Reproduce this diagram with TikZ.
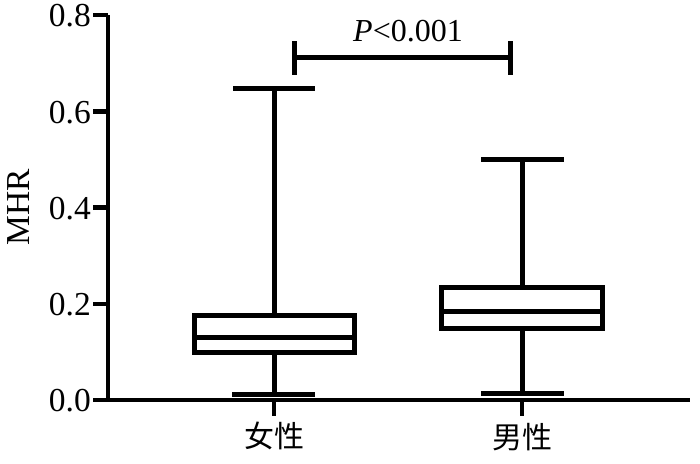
\documentclass[tikz,border=0pt]{standalone}
\usepackage{fontspec}
\setmainfont{Liberation Serif}
\newfontfamily\cjk{Noto Sans CJK SC}
\begin{document}
\begin{tikzpicture}[x=1pt,y=-1pt,
  axisline/.style={line width=4.5pt},
  boxline/.style={line width=5pt},
  ticklab/.style={anchor=east,inner sep=0pt,font=\fontsize{33.5}{36}\selectfont},
  catlab/.style={anchor=center,inner sep=0pt,font=\cjk\fontsize{30}{34}\selectfont}]
\useasboundingbox (0,0) rectangle (700,463);
% axes
\coordinate (ytop) at (108,15);
\coordinate (orig) at (108,400);
\coordinate (xend) at (690,400);
\draw[axisline] (ytop) -- (orig) -- (xend);
% y ticks
\foreach \v/\lab in {0/0.0,1/0.2,2/0.4,3/0.6,4/0.8}{
  \draw[axisline] (93,{400-96.25*\v}) -- (108,{400-96.25*\v});
  \node[ticklab] (t\v) at (91,{400-96.25*\v+1}) {\lab};
}
% x ticks
\draw[axisline] (274,400) -- (274,416);
\draw[axisline] (522,400) -- (522,416);
\node[catlab] (c1) at (274,436) {女性};
\node[catlab] (c2) at (522,437) {男性};
% y label
\node[rotate=90,inner sep=0pt,font=\fontsize{33.5}{36}\selectfont] (ylab) at (19,207) {MHR};
% box 1
\draw[boxline] (194,315.5) rectangle (354,352.5);
\draw[boxline] (194,337) -- (354,337);
\draw[boxline] (274,352.5) -- (274,394);
\draw[boxline] (274,315.5) -- (274,88);
\draw[boxline] (232,394) -- (315,394);
\draw[boxline] (233,88) -- (315,88);
% box 2
\draw[boxline] (441.5,287.5) rectangle (602.5,328.5);
\draw[boxline] (441.5,311.5) -- (602.5,311.5);
\draw[boxline] (522,328.5) -- (522,393);
\draw[boxline] (522,287.5) -- (522,159);
\draw[boxline] (481,393) -- (564,393);
\draw[boxline] (481,159) -- (564,159);
% significance bracket
\coordinate (bl) at (294,57);
\coordinate (br) at (510,57);
\draw[boxline] (292,57) -- (512,57);
\draw[boxline] (294,41) -- (294,75);
\draw[boxline] (510,41) -- (510,75);
\node[inner sep=0pt,font=\fontsize{32}{34}\selectfont] (pval) at (408,31) {\textit{P}<0.001};
\end{tikzpicture}
\end{document}
